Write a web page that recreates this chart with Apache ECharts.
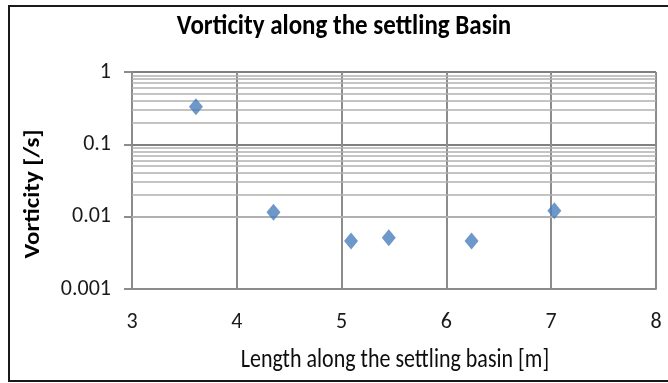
<!DOCTYPE html>
<html>
<head>
<meta charset="utf-8">
<script src="https://cdn.jsdelivr.net/npm/echarts@6/dist/echarts.min.js"></script>
<style>
  html, body { margin: 0; padding: 0; background: #fff; }
  #chart { width: 668px; height: 383px; }
</style>
</head>
<body>
<div id="chart"></div>
<script>
// Distance along the basin [m] and measured vorticity [1/s]
const lengths = [3.61, 4.35, 5.09, 5.45, 6.24, 7.03];
const vorticity = [0.33, 0.0115, 0.0046, 0.0051, 0.0046, 0.0121];

// Log-axis labels and the intermediate decade lines (2..9 in each decade)
const yTickLabels = { 1: '1', 0.1: '0.1', 0.01: '0.01', 0.001: '0.001' };
const minorLevels = [];
[0.001, 0.01, 0.1].forEach(function (base) {
  for (let k = 2; k <= 9; k++) minorLevels.push(+(base * k).toPrecision(3));
});

const FONT = 'Carlito, "Liberation Sans", sans-serif';
const chart = echarts.init(document.getElementById('chart'), null, { renderer: 'canvas' });

chart.setOption({
  animation: false,
  backgroundColor: '#ffffff',
  graphic: [
    {
      // chart frame
      type: 'rect',
      shape: { x: 9, y: 6, width: 680, height: 375 },
      style: { fill: 'none', stroke: '#1a1a1a', lineWidth: 2 },
      silent: true
    },
    {
      type: 'text',
      x: 344, y: 27,
      scaleY: 1.1,
      style: {
        text: 'Vorticity along the settling Basin',
        font: 'bold 25px ' + FONT,
        fill: '#000',
        align: 'center',
        verticalAlign: 'middle'
      }
    },
    {
      // y-axis title, reading bottom to top
      type: 'text',
      x: 33, y: 194,
      rotation: Math.PI / 2,
      scaleX: 1.13,
      style: {
        text: 'Vorticity [/s]',
        font: 'bold 22px ' + FONT,
        fill: '#000',
        align: 'center',
        verticalAlign: 'middle'
      }
    },
    {
      // x-axis title
      type: 'text',
      x: 395, y: 360,
      scaleY: 1.2,
      style: {
        text: 'Length along the settling basin [m]',
        font: '22px ' + FONT,
        fill: '#0d0d0d',
        align: 'center',
        verticalAlign: 'middle'
      }
    }
  ],
  grid: { left: 132, right: 12, top: 72, bottom: 94, containLabel: false },
  xAxis: {
    type: 'value',
    min: 3, max: 8, interval: 1,
    axisLine: { show: true, lineStyle: { color: '#8c8c8c', width: 2 } },
    axisTick: { show: false },
    axisLabel: { margin: 22, fontFamily: FONT, fontSize: 22, color: '#1a1a1a' },
    splitLine: { show: true, lineStyle: { color: '#8c8c8c', width: 2 } }
  },
  yAxis: {
    type: 'log',
    logBase: 10,
    min: 0.001, max: 1,
    axisLine: { show: true, lineStyle: { color: '#8c8c8c', width: 2 } },
    axisTick: { show: true, inside: false, length: 8, lineStyle: { color: '#8c8c8c', width: 2 } },
    axisLabel: {
      margin: 21,
      fontFamily: FONT, fontSize: 22, color: '#1a1a1a',
      formatter: function (v) {
        const key = +v.toPrecision(3);
        return yTickLabels[key] !== undefined ? yTickLabels[key] : '';
      }
    },
    splitLine: { show: true, lineStyle: { color: '#808080', width: 2 } }
  },
  series: [
    {
      // intermediate horizontal lines of each decade
      type: 'scatter',
      data: [],
      z: 1,
      silent: true,
      markLine: {
        silent: true,
        symbol: 'none',
        animation: false,
        label: { show: false },
        lineStyle: { color: '#b0b0b0', width: 1.5, type: 'solid' },
        data: minorLevels.map(function (v) { return { yAxis: v }; })
      }
    },
    {
      type: 'scatter',
      z: 5,
      symbol: 'diamond',
      symbolSize: [14, 17],
      itemStyle: { color: '#4a7ebb' },
      data: lengths.map(function (x, i) { return [x, vorticity[i]]; })
    }
  ]
});
</script>
</body>
</html>
